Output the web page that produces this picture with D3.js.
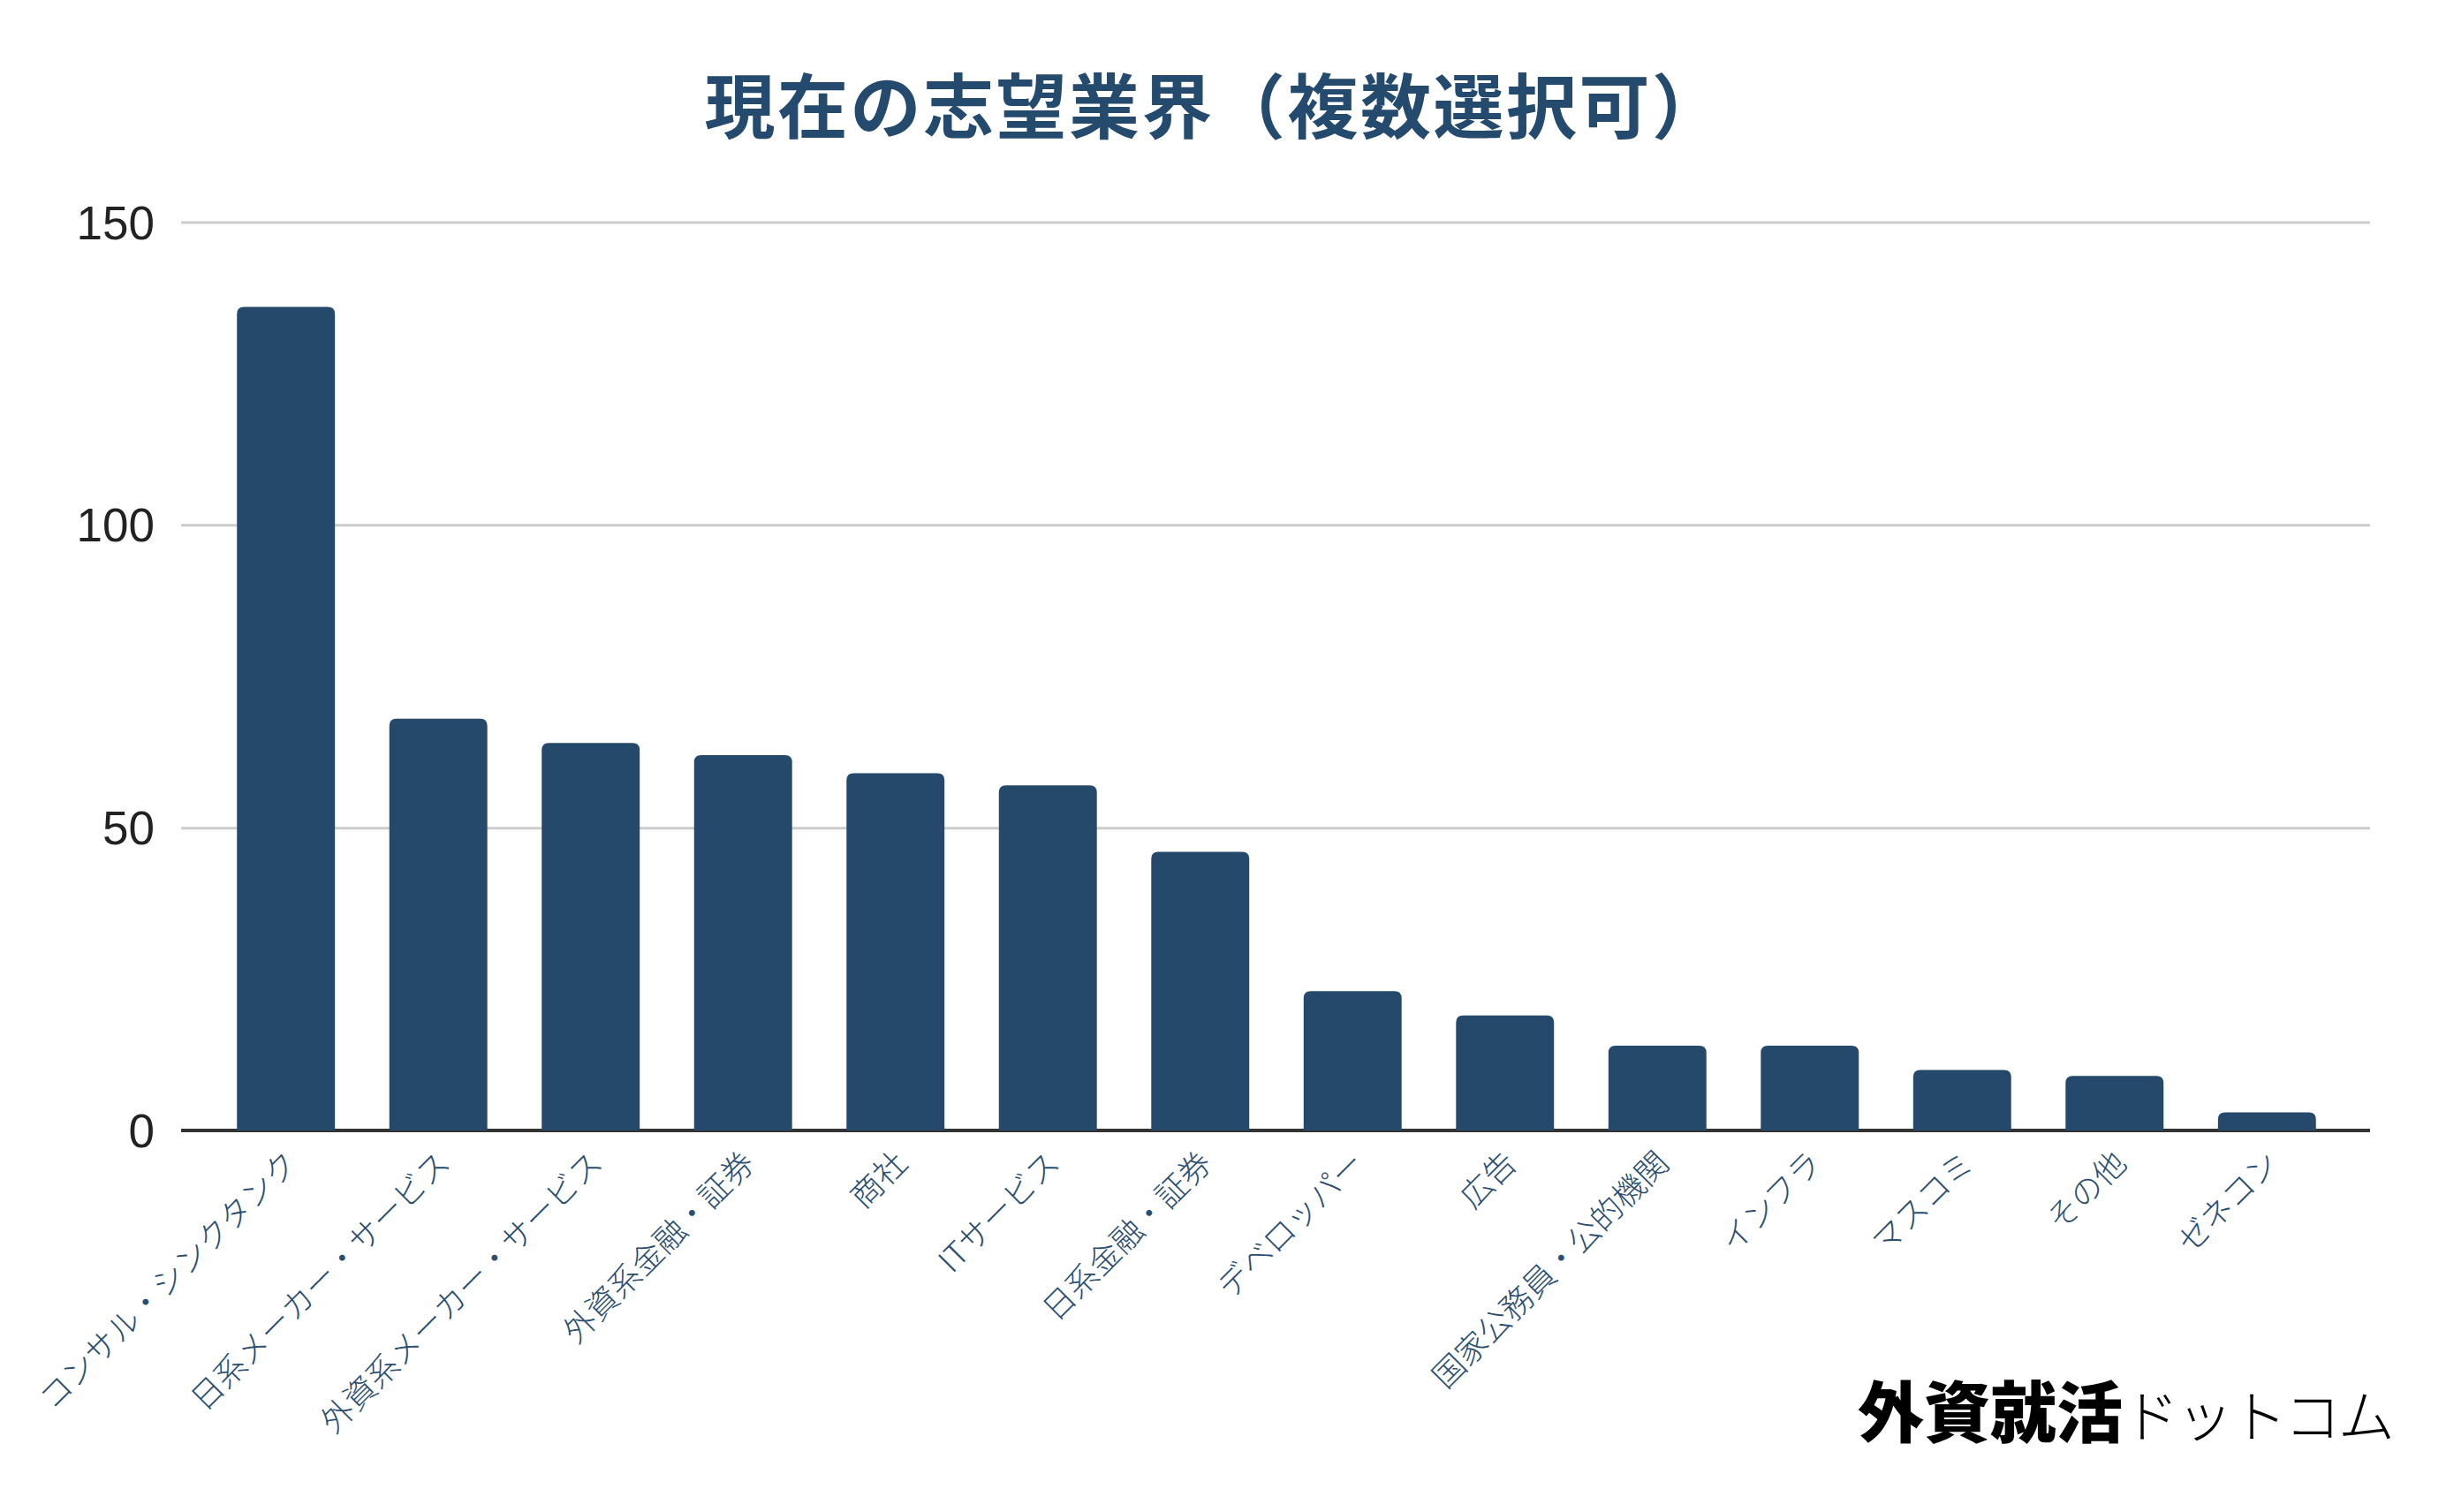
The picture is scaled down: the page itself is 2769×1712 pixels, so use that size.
<!DOCTYPE html>
<html>
<head>
<meta charset="utf-8">
<script src="https://cdn.jsdelivr.net/npm/d3@7"></script>
<style>
  html, body { margin: 0; padding: 0; background: #ffffff; }
  svg { display: block; }
</style>
</head>
<body>
<svg id="chart" width="2769" height="1712"></svg>
<script>
// ---- data ----
const titleText = "現在の志望業界（複数選択可）";
const categories = [
  "コンサル・シンクタンク",
  "日系メーカー・サービス",
  "外資系メーカー・サービス",
  "外資系金融・証券",
  "商社",
  "ITサービス",
  "日系金融・証券",
  "デベロッパー",
  "広告",
  "国家公務員・公的機関",
  "インフラ",
  "マスコミ",
  "その他",
  "ゼネコン"
];
const values = [136, 68, 64, 62, 59, 57, 46, 23, 19, 14, 14, 10, 9, 3];
const yTicks = [0, 50, 100, 150];
const brandKanji = "外資就活";
const brandKana = "ドットコム";

// ---- layout ----
const W = 2769, H = 1712;
const plotLeft = 205, plotRight = 2683, plotTop = 251.5, plotBottom = 1280;
const barColor = "#24496b";
const labelColor = "#2a4d70";

const svg = d3.select("#chart");
svg.append("rect").attr("width", W).attr("height", H).attr("fill", "#ffffff");

const x = d3.scaleBand()
  .domain(categories)
  .range([207, plotRight])
  .paddingInner(0.357)
  .paddingOuter(0.355);

const y = d3.scaleLinear().domain([0, 150]).range([plotBottom, plotTop]);

// title
svg.append("text")
  .attr("x", 1375)
  .attr("y", 150)
  .attr("text-anchor", "middle")
  .attr("font-family", "'Noto Sans CJK JP', sans-serif")
  .attr("font-weight", 700)
  .attr("font-size", 80)
  .attr("letter-spacing", 2.5)
  .attr("fill", "#244a6d")
  .text(titleText);

// y axis with gridlines
const yAxis = d3.axisLeft(y)
  .tickValues(yTicks)
  .tickSize(-(plotRight - plotLeft))
  .tickPadding(30)
  .tickFormat(d3.format("d"));

const gy = svg.append("g")
  .attr("transform", `translate(${plotLeft},0)`)
  .call(yAxis);
gy.select(".domain").remove();
gy.selectAll(".tick line")
  .attr("stroke-width", 3)
  .attr("stroke", d => d === 0 ? "none" : "#cccccc");
gy.selectAll(".tick text")
  .attr("font-family", "'Liberation Sans', Arial, sans-serif")
  .attr("font-size", 53)
  .attr("fill", "#222222")
  .attr("dy", null)
  .attr("dominant-baseline", "central");

// baseline
svg.append("line")
  .attr("x1", plotLeft).attr("x2", plotRight)
  .attr("y1", y(0)).attr("y2", y(0))
  .attr("stroke", "#333333")
  .attr("stroke-width", 4);

// bars with rounded tops
function barPath(bx, by, bw, bh, r) {
  r = Math.min(r, bh / 2, bw / 2);
  return `M${bx},${by + bh}V${by + r}Q${bx},${by} ${bx + r},${by}H${bx + bw - r}Q${bx + bw},${by} ${bx + bw},${by + r}V${by + bh}Z`;
}
const data = categories.map((c, i) => ({ c, v: values[i] }));
svg.append("g").selectAll("path")
  .data(data)
  .join("path")
  .attr("d", d => barPath(x(d.c), y(d.v), x.bandwidth(), y(0) - y(d.v), 8))
  .attr("fill", barColor);

// x axis labels
const xAxis = d3.axisBottom(x).tickSize(0).tickPadding(0);
const gx = svg.append("g")
  .attr("transform", `translate(0,${y(0)})`)
  .call(xAxis);
gx.select(".domain").remove();
gx.selectAll(".tick text")
  .attr("x", 0).attr("y", 0).attr("dy", null)
  .attr("transform", "translate(4,28) rotate(-45)")
  .attr("text-anchor", "end")
  .attr("dominant-baseline", "central")
  .attr("font-family", "'Noto Sans CJK JP', sans-serif")
  .attr("font-weight", 300)
  .attr("font-size", 36)
  .attr("fill", labelColor);

// brand watermark
const brand = svg.append("text")
  .attr("x", 2103)
  .attr("y", 1627)
  .attr("fill", "#000000");
brand.append("tspan")
  .attr("font-family", "'Noto Sans CJK JP', serif")
  .attr("font-weight", 900)
  .attr("font-size", 75)
  .text(brandKanji);
brand.append("tspan")
  .attr("font-family", "'Noto Sans CJK JP', sans-serif")
  .attr("font-weight", 300)
  .attr("font-size", 64)
  .attr("letter-spacing", -3)
  .text(brandKana);
</script>
</body>
</html>
